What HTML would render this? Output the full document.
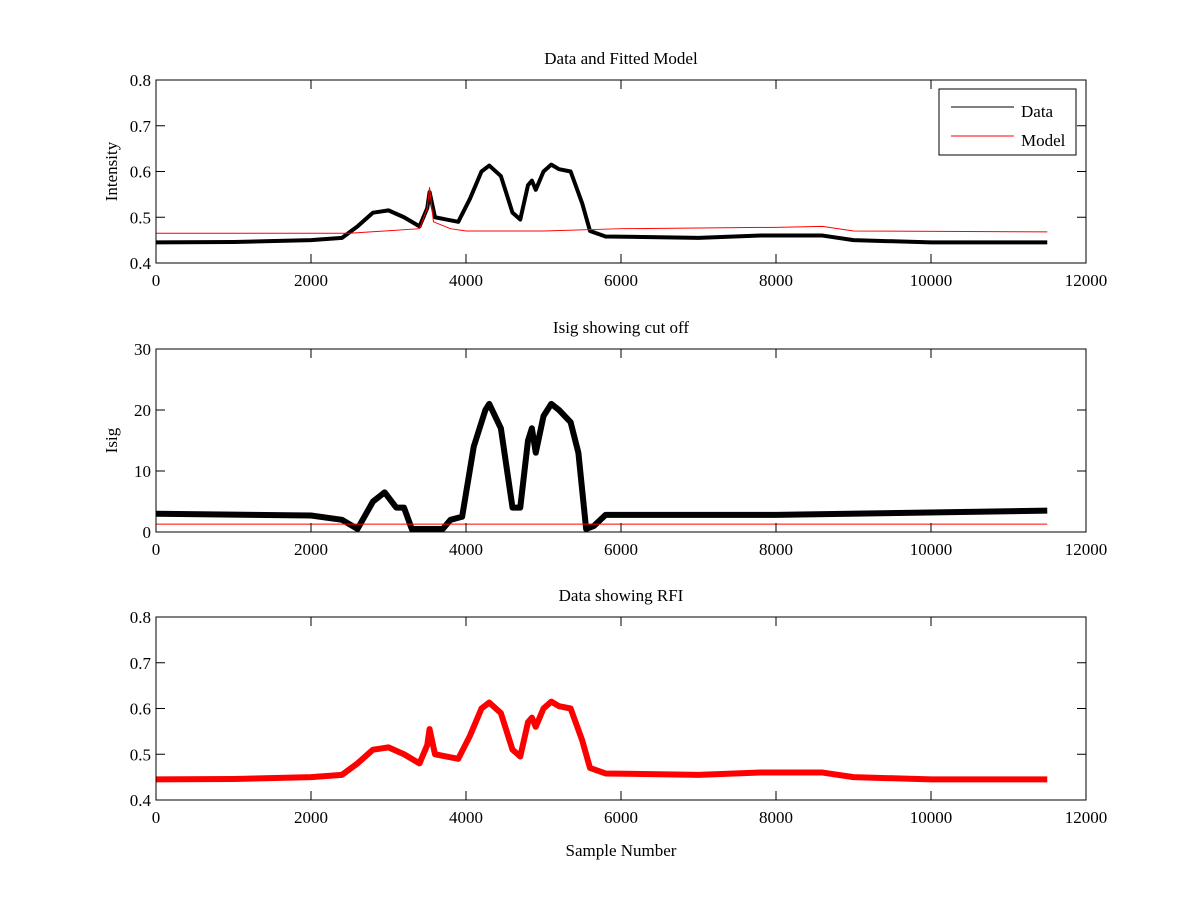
<!DOCTYPE html>
<html><head><meta charset="utf-8"><style>
body{margin:0;background:#fff}
svg text{font-family:"Liberation Serif",serif;font-size:17px;fill:#000}
</style></head><body>
<svg id="chart" width="1200" height="900"></svg>
<script>
const xTicks=[0,2000,4000,6000,8000,10000,12000];
const intensityTicks=[0.4,0.5,0.6,0.7,0.8];
const isigTicks=[0,10,20,30];
const dataX=[0,1000,2000,2400,2600,2800,3000,3200,3400,3500,3530,3600,3750,3900,4050,4200,4300,4450,4600,4700,4800,4850,4900,5000,5100,5200,5350,5500,5600,5800,7000,7800,8600,9000,10000,11500];
const dataY=[0.445,0.446,0.45,0.455,0.48,0.51,0.515,0.5,0.48,0.52,0.555,0.5,0.495,0.49,0.54,0.6,0.613,0.59,0.51,0.495,0.57,0.58,0.56,0.6,0.615,0.605,0.6,0.53,0.47,0.458,0.455,0.46,0.46,0.45,0.445,0.445];
const modelX=[0,2500,3400,3500,3530,3580,3800,4000,5000,6000,8000,8600,9000,11500];
const modelY=[0.465,0.465,0.475,0.52,0.565,0.49,0.475,0.47,0.47,0.475,0.478,0.48,0.47,0.468];
const isigX=[0,2000,2400,2600,2800,2950,3100,3200,3300,3700,3800,3950,4100,4250,4300,4450,4600,4700,4800,4850,4900,5000,5100,5200,5350,5450,5550,5650,5800,8000,11500];
const isigY=[3,2.7,2,0.5,5,6.5,4,4,0.5,0.5,2,2.5,14,20,21,17,4,4,15,17,13,19,21,20,18,13,0.5,1,2.8,2.8,3.5];
const cutX=[0,11500];
const cutY=[1.3,1.3];

const NS="http://www.w3.org/2000/svg";
const svg=document.getElementById('chart');
const X0=156,X1=1086;
function mk(t,a,p){const e=document.createElementNS(NS,t);for(const k in a)e.setAttribute(k,a[k]);(p||svg).appendChild(e);return e;}
function panel(name,top,bot,ymin,ymax,yticks,title,ylabel,series){
  const g=mk('g',{});
  
  
  const sx=v=>X0+(v-0)/12000*(X1-X0);
  const sy=v=>bot-(v-ymin)/(ymax-ymin)*(bot-top);
  series.forEach(s=>{
    const pts=s.x.map((v,i)=>sx(v)+','+sy(s.y[i])).join(' ');
    const l=mk('polyline',{points:pts,fill:'none',stroke:s.c,'stroke-width':s.w,'stroke-linejoin':'round'},g);
    
    
  });
  const box=mk('rect',{x:X0,y:top,width:X1-X0,height:bot-top,fill:'none',stroke:'#000','stroke-width':1},g);
  
  
  xTicks.forEach(v=>{
    const x=sx(v);
    mk('line',{x1:x,x2:x,y1:bot,y2:bot-9,stroke:'#000'},g);
    mk('line',{x1:x,x2:x,y1:top,y2:top+9,stroke:'#000'},g);
    const t=mk('text',{x:x,y:bot+23,'text-anchor':'middle'},g);t.textContent=v;
    
    
  });
  yticks.forEach(v=>{
    const y=sy(v);
    mk('line',{x1:X0,x2:X0+9,y1:y,y2:y,stroke:'#000'},g);
    mk('line',{x1:X1,x2:X1-9,y1:y,y2:y,stroke:'#000'},g);
    const t=mk('text',{x:X0-5,y:y+6,'text-anchor':'end'},g);t.textContent=v;
    
    
  });
  const tt=mk('text',{x:(X0+X1)/2,y:top-16,'text-anchor':'middle'},g);tt.textContent=title;
  
  
  if(ylabel){const yl=mk('text',{x:0,y:0,'text-anchor':'middle',transform:`translate(117,${(top+bot)/2}) rotate(-90)`},g);yl.textContent=ylabel;
  
  }
}
panel('panel-data-model',80,263,0.4,0.8,intensityTicks,'Data and Fitted Model','Intensity',[
 {x:dataX,y:dataY,c:'#000',w:4,n:'data-line'},{x:modelX,y:modelY,c:'#f00',w:1,n:'model-line'}]);
panel('panel-isig',349,532,0,30,isigTicks,'Isig showing cut off','Isig',[
 {x:isigX,y:isigY,c:'#000',w:6,n:'isig-line'},{x:cutX,y:cutY,c:'#f00',w:1,n:'cutoff-line'}]);
panel('panel-rfi',617,800,0.4,0.8,intensityTicks,'Data showing RFI','',[
 {x:dataX,y:dataY,c:'#f00',w:6,n:'rfi-data-line'}]);
const xl=mk('text',{x:621,y:856,'text-anchor':'middle'});xl.textContent='Sample Number';


const lg=mk('g',{});


mk('rect',{x:939,y:89,width:137,height:66,fill:'#fff',stroke:'#000'},lg);
mk('line',{x1:951,x2:1014,y1:107,y2:107,stroke:'#000'},lg);
mk('line',{x1:951,x2:1014,y1:136,y2:136,stroke:'#f00'},lg);
const t1=mk('text',{x:1021,y:117},lg);t1.textContent='Data';


const t2=mk('text',{x:1021,y:146},lg);t2.textContent='Model';


</script>
</body></html>
